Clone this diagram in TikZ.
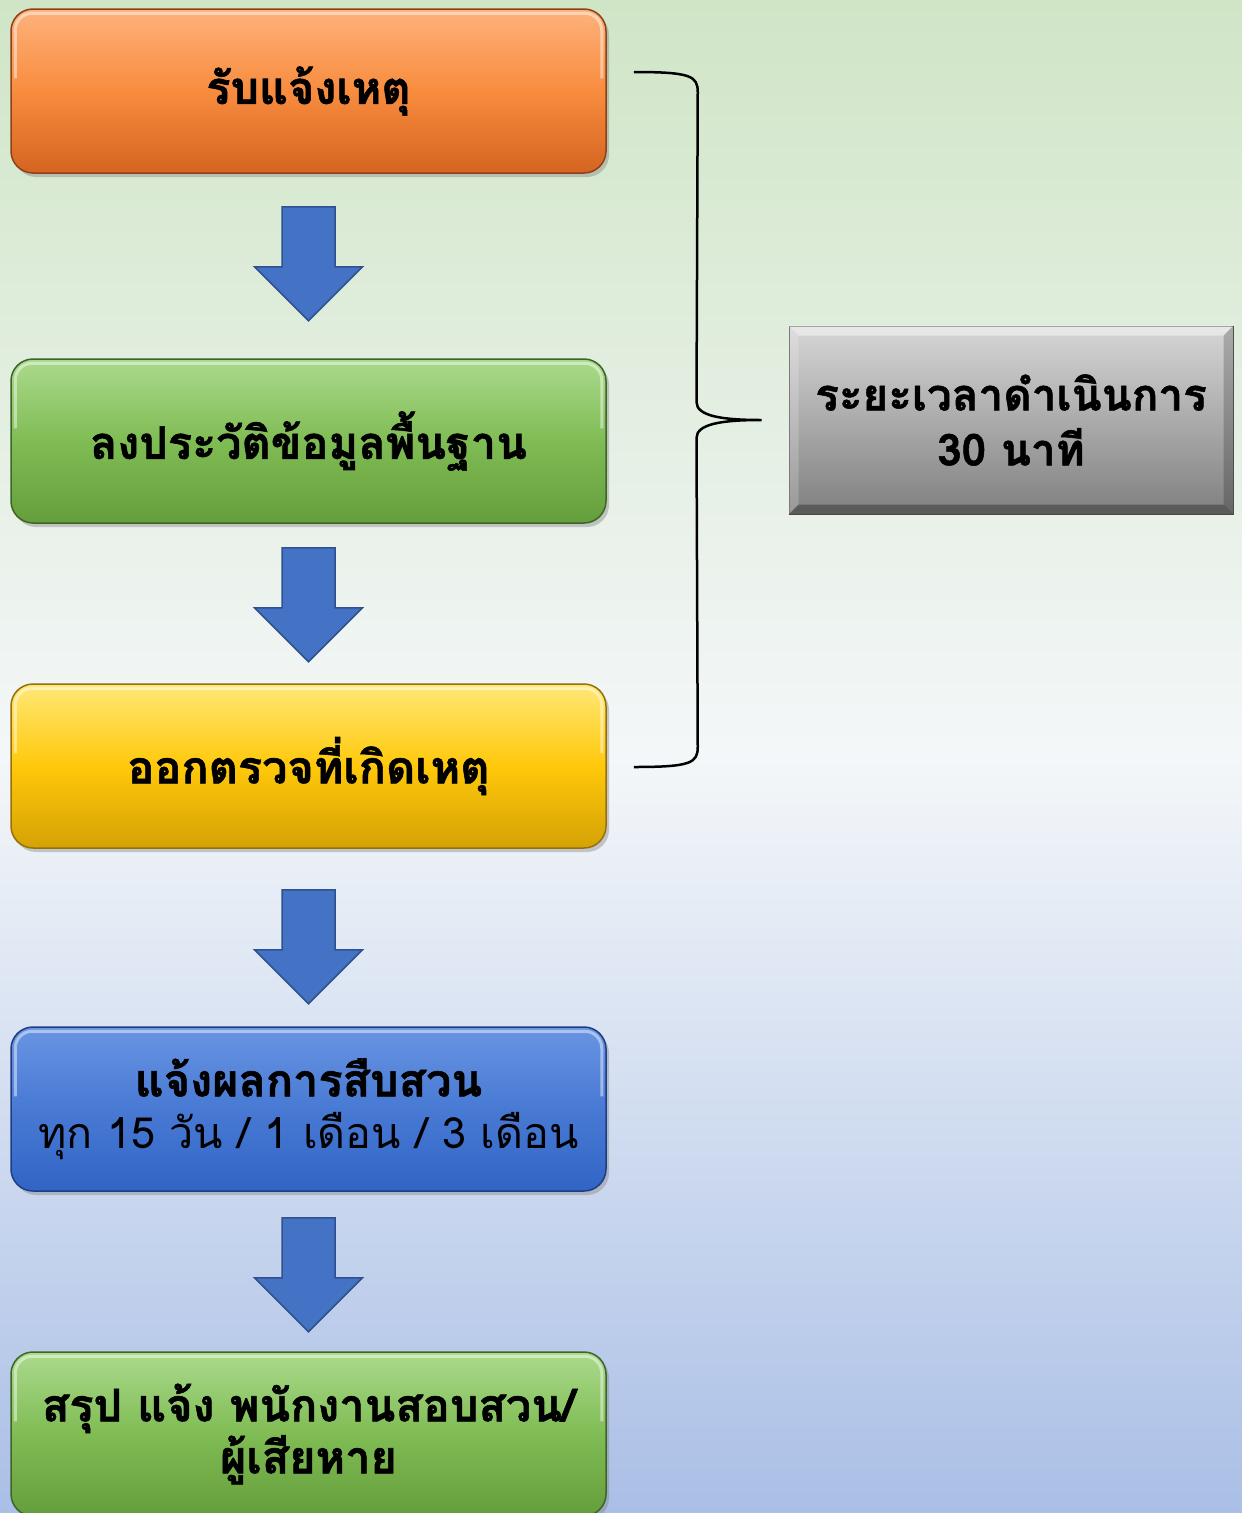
\documentclass[tikz,border=0pt]{standalone}
\usepackage{fontspec}
\newfontfamily\thaifont[Script=Thai, BoldFeatures={FakeBold=1.2}]{Loma}
\usetikzlibrary{calc,shadows}
\definecolor{bgtop}{RGB}{208,229,198}
\definecolor{bgmid}{RGB}{244,247,249}
\definecolor{bgbot}{RGB}{170,191,230}
\definecolor{orT}{RGB}{254,178,124}
\definecolor{orM}{RGB}{248,140,62}
\definecolor{orB}{RGB}{212,100,32}
\definecolor{orD}{RGB}{140,65,22}
\definecolor{grT}{RGB}{170,218,140}
\definecolor{grM}{RGB}{128,188,84}
\definecolor{grB}{RGB}{100,158,60}
\definecolor{grD}{RGB}{62,100,40}
\definecolor{yeT}{RGB}{255,232,120}
\definecolor{yeM}{RGB}{255,200,10}
\definecolor{yeB}{RGB}{212,162,5}
\definecolor{yeD}{RGB}{150,112,10}
\definecolor{blT}{RGB}{105,148,226}
\definecolor{blM}{RGB}{72,122,212}
\definecolor{blB}{RGB}{50,100,198}
\definecolor{blD}{RGB}{32,60,130}
\definecolor{gyT}{RGB}{214,214,214}
\definecolor{gyB}{RGB}{128,128,128}
\definecolor{arF}{RGB}{68,114,196}
\definecolor{arD}{RGB}{47,82,143}
\tikzset{
  box/.style={rectangle, rounded corners=22pt, minimum width=595pt, minimum height=164pt,
    line width=1.5pt, align=center, font=\thaifont\bfseries\fontsize{45}{52}\selectfont,
    drop shadow={shadow xshift=3pt, shadow yshift=-4pt, opacity=0.4}},
  orangebox/.style={box, draw=orD, top color=orT, bottom color=orB, middle color=orM},
  greenbox/.style={box, draw=grD, top color=grT, bottom color=grB, middle color=grM},
  yellowbox/.style={box, draw=yeD, top color=yeT, bottom color=yeB, middle color=yeM},
  bluebox/.style={box, draw=blD, top color=blT, bottom color=blB, middle color=blM},
  graybox/.style={rectangle, minimum width=444pt, minimum height=188pt, draw=gray!70!black, line width=1pt,
    top color=gyT, bottom color=gyB, align=center, font=\thaifont\bfseries\fontsize{44}{55}\selectfont},
  gloss/.style={draw=white, opacity=0.45, line width=3pt, rounded corners=17pt},
  blockarrow/.style={fill=arF, draw=arD, line width=1.5pt, line join=miter},
  brace/.style={draw=black, line width=2.5pt}
}
\newcommand\glossrim[1]{\draw[gloss] ($(#1.north west)+(5,70)$) -- ($(#1.north west)+(5,5)$) -- ($(#1.north east)+(-5,5)$) -- ($(#1.north east)+(-5,70)$);}
\begin{document}
\begin{tikzpicture}[x=1pt,y=-1pt]
\useasboundingbox (0,0) rectangle (1242,1513);
\fill[top color=bgtop, bottom color=bgbot, middle color=bgmid] (0,0) rectangle (1242,1513);

\node[orangebox] (b1) at (308.5,91) {รับแจ้งเหตุ};
\node[greenbox] (b2) at (308.5,441) {ลงประวัติข้อมูลพื้นฐาน};
\node[yellowbox] (b3) at (308.5,766) {ออกตรวจที่เกิดเหตุ};
\node[bluebox] (b4) at (308.5,1109) {แจ้งผลการสืบสวน\\{\mdseries\fontsize{43}{52}\selectfont ทุก 15 วัน / 1 เดือน / 3 เดือน}};
\node[greenbox] (b5) at (308.5,1434) {สรุป แจ้ง พนักงานสอบสวน/\\ผู้เสียหาย};
\glossrim{b1}\glossrim{b2}\glossrim{b3}\glossrim{b4}\glossrim{b5}

\draw[blockarrow] ($(b1.south)+(-26.5,33)$) -- ++(53,0) -- ++(0,60) -- ++(27.5,0) -- ++(-54,54) -- ++(-54,-54) -- ++(27.5,0) -- cycle;
\draw[blockarrow] ($(b2.south)+(-26.5,24)$) -- ++(53,0) -- ++(0,60) -- ++(27.5,0) -- ++(-54,54) -- ++(-54,-54) -- ++(27.5,0) -- cycle;
\draw[blockarrow] ($(b3.south)+(-26.5,41)$) -- ++(53,0) -- ++(0,60) -- ++(27.5,0) -- ++(-54,54) -- ++(-54,-54) -- ++(27.5,0) -- cycle;
\draw[blockarrow] ($(b4.south)+(-26.5,26)$) -- ++(53,0) -- ++(0,60) -- ++(27.5,0) -- ++(-54,54) -- ++(-54,-54) -- ++(27.5,0) -- cycle;

\node[graybox] (g) at (1011,420) {ระยะเวลาดำเนินการ\\30 นาที};
\fill[white, opacity=0.45] (g.north west) -- (g.north east) -- ++(-10,10) -- ($(g.north west)+(10,10)$) -- cycle;
\fill[white, opacity=0.2] (g.north west) -- ($(g.north west)+(10,10)$) -- ($(g.south west)+(10,-10)$) -- (g.south west) -- cycle;
\fill[black, opacity=0.2] (g.north east) -- (g.south east) -- ++(-10,-10) -- ($(g.north east)+(-10,10)$) -- cycle;
\fill[black, opacity=0.3] (g.south west) -- (g.south east) -- ++(-10,-10) -- ($(g.south west)+(10,-10)$) -- cycle;

\coordinate (bt) at ($(b1.east)+(27,-19)$);
\coordinate (bb) at ($(b3.east)+(27,1)$);
\coordinate (tip) at ($(g.west)+(-27,0)$);
\draw[brace] (bt) .. controls ++(57,0) and ++(0,-16) .. ($(bt)+(64,20)$) -- ($(tip)+(-65,-18)$)
  .. controls ++(0,14) and ++(-40,0) .. (tip)
  .. controls ++(-40,0) and ++(0,-14) .. ($(tip)+(-65,18)$) -- ($(bb)+(64,-20)$)
  .. controls ++(0,16) and ++(57,0) .. (bb);
\end{tikzpicture}
\end{document}
